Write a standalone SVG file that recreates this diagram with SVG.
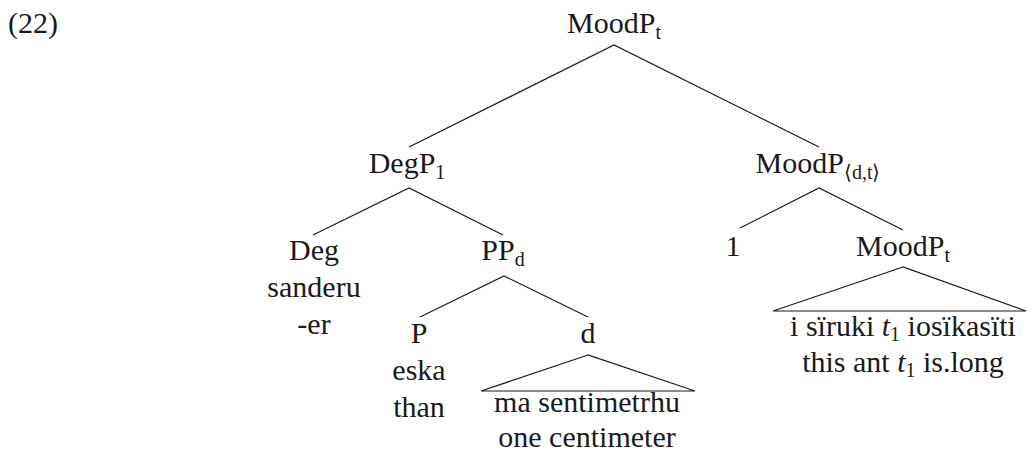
<svg xmlns="http://www.w3.org/2000/svg" width="1028" height="461" viewBox="0 0 1028 461">
  <style>
    text { font-family: "Liberation Serif", "Times New Roman", serif; font-size: 30px; fill: #1a1a1a; text-anchor: middle; }
    .sub { font-size: 20px; }
    .it { font-style: italic; }
    .edge { stroke: #1a1a1a; stroke-width: 1.2; fill: none; }
  </style>
  <rect width="1028" height="461" fill="#ffffff"/>

  <!-- example number -->
  <text x="8" y="33" style="text-anchor:start">(22)</text>

  <!-- branches -->
  <g id="connectors">
    <polyline class="edge" points="409,147 614,45 819,147"/>
    <polyline class="edge" points="313,235 409,188 503,235"/>
    <polyline class="edge" points="420,317 504,276 588,317"/>
    <polyline class="edge" points="740,228 819,188 903,230"/>
    <polygon class="edge" points="588,355 481,391 695,391"/>
    <polygon class="edge" points="903,267 773,311 1026,311"/>
  </g>

  <g id="root">
    <text x="614" y="33">MoodP<tspan class="sub" dy="6">t</tspan></text>
  </g>
  <g id="degp">
    <text x="407" y="173">DegP<tspan class="sub" dy="6">1</tspan></text>
  </g>
  <g id="moodp-dt">
    <text x="818" y="173">MoodP<tspan class="sub" dy="6">⟨d,t⟩</tspan></text>
  </g>
  <g id="deg">
    <text x="314" y="260">Deg</text>
    <text x="314" y="297">sanderu</text>
    <text x="314" y="334">-er</text>
  </g>
  <g id="ppd">
    <text x="503" y="260">PP<tspan class="sub" dy="6">d</tspan></text>
  </g>
  <g id="p">
    <text x="419" y="343">P</text>
    <text x="419" y="380">eska</text>
    <text x="419" y="417">than</text>
  </g>
  <g id="d">
    <text x="588" y="343">d</text>
    <text x="587" y="412">ma sentimetrhu</text>
    <text x="587" y="447">one centimeter</text>
  </g>
  <g id="index">
    <text x="733" y="256">1</text>
  </g>
  <g id="moodp-t">
    <text x="903" y="256">MoodP<tspan class="sub" dy="6">t</tspan></text>
    <text x="903" y="336">i sïruki <tspan class="it">t</tspan><tspan class="sub" dy="5">1</tspan><tspan dy="-5"> iosïkasïti</tspan></text>
    <text x="903" y="372">this ant <tspan class="it">t</tspan><tspan class="sub" dy="5">1</tspan><tspan dy="-5"> is.long</tspan></text>
  </g>
</svg>
